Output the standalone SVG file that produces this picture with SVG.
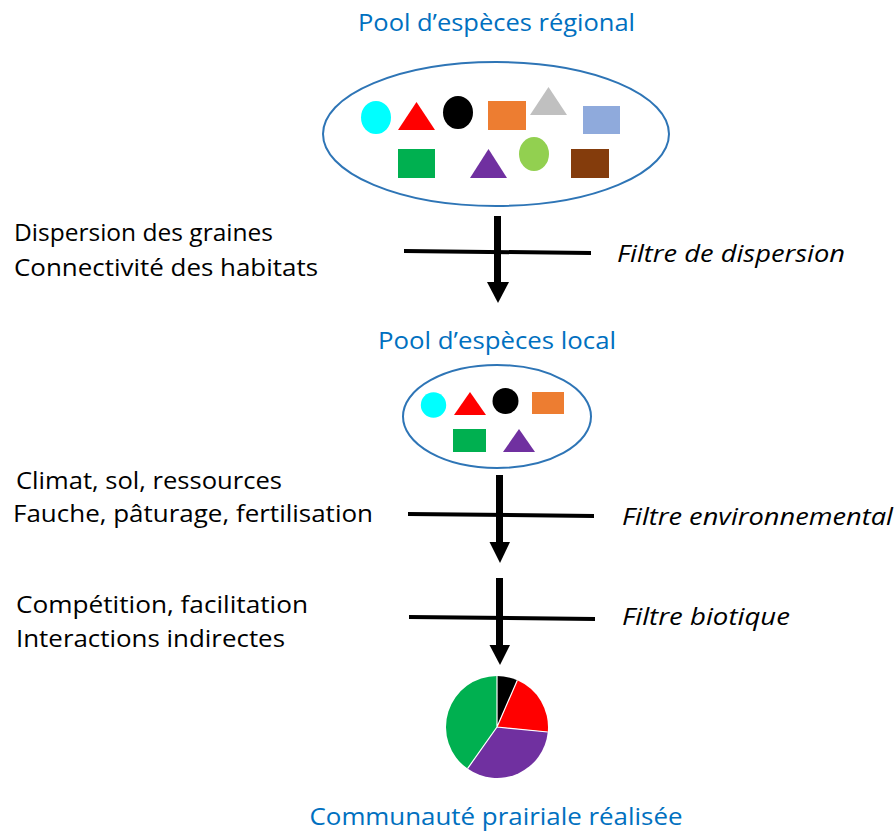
<svg xmlns="http://www.w3.org/2000/svg" width="896" height="832" viewBox="0 0 896 832">
<style>
.title{font-family:"Open Sans","Liberation Sans",sans-serif;font-size:24px;fill:#0070C0;text-anchor:middle}
.lbl{font-family:"Open Sans","Liberation Sans",sans-serif;font-size:24px;fill:#000}
.flt{font-family:"Open Sans","Liberation Sans",sans-serif;font-size:24px;font-style:italic;fill:#000}
.pool{fill:#fff;stroke:#2E75B6;stroke-width:2}
.bar{stroke:#000;stroke-width:4;fill:none}
.shaft{stroke:#000;stroke-width:7;fill:none}
.head{fill:#000}
.sep{stroke:#fff;stroke-width:1.2}
</style>
<rect width="896" height="832" fill="#fff"/>
<g id="regional-pool">
  <text class="title" x="496.5" y="31" textLength="277" lengthAdjust="spacingAndGlyphs">Pool d’espèces régional</text>
  <ellipse class="pool" cx="496" cy="134" rx="173" ry="72"/>
  <ellipse cx="376" cy="117.5" rx="15" ry="16.5" fill="#00FFFF"/>
  <polygon points="416.5,102 435,130 398,130" fill="#FF0000"/>
  <ellipse cx="458" cy="112.5" rx="15" ry="16.5" fill="#000"/>
  <rect x="488" y="101" width="38" height="29" fill="#ED7D31"/>
  <polygon points="548.5,87 567,115 530,115" fill="#C0C0C0"/>
  <rect x="583" y="106" width="37" height="28" fill="#8FAADC"/>
  <rect x="398" y="149" width="37" height="29" fill="#00B050"/>
  <polygon points="488.5,149 507,178 470,178" fill="#7030A0"/>
  <ellipse cx="534" cy="154" rx="15" ry="17" fill="#92D050"/>
  <rect x="571" y="149" width="38" height="29" fill="#843C0C"/>
</g>
<g id="dispersion-filter">
  <text class="lbl" x="14" y="241" textLength="259" lengthAdjust="spacingAndGlyphs">Dispersion des graines</text>
  <text class="lbl" x="14" y="276" textLength="304" lengthAdjust="spacingAndGlyphs">Connectivité des habitats</text>
  <text class="flt" x="617" y="262" textLength="228" lengthAdjust="spacingAndGlyphs">Filtre de dispersion</text>
</g>
<g id="local-pool">
  <text class="title" x="497" y="349" textLength="238" lengthAdjust="spacingAndGlyphs">Pool d’espèces local</text>
  <ellipse class="pool" cx="497" cy="416.5" rx="94" ry="51.5"/>
  <circle cx="433.5" cy="405" r="12.7" fill="#00FFFF"/>
  <polygon points="470,392 486,415 454,415" fill="#FF0000"/>
  <circle cx="505.5" cy="401" r="13" fill="#000"/>
  <rect x="532" y="392" width="32" height="22" fill="#ED7D31"/>
  <rect x="453" y="429" width="33" height="23" fill="#00B050"/>
  <polygon points="519,429 535,452 503,452" fill="#7030A0"/>
</g>
<g id="environmental-filter">
  <text class="lbl" x="16" y="489" textLength="266" lengthAdjust="spacingAndGlyphs">Climat, sol, ressources</text>
  <text class="lbl" x="13" y="522" textLength="360" lengthAdjust="spacingAndGlyphs">Fauche, pâturage, fertilisation</text>
  <text class="flt" x="622" y="525" textLength="271" lengthAdjust="spacingAndGlyphs">Filtre environnemental</text>
</g>
<g id="biotic-filter">
  <text class="lbl" x="16" y="613" textLength="292" lengthAdjust="spacingAndGlyphs">Compétition, facilitation</text>
  <text class="lbl" x="16" y="647" textLength="269" lengthAdjust="spacingAndGlyphs">Interactions indirectes</text>
  <text class="flt" x="622" y="625" textLength="168" lengthAdjust="spacingAndGlyphs">Filtre biotique</text>
</g>
<g id="community">
  <path d="M497,727 L497,676 A51,51 0 0 1 517.33,680.23 Z" fill="#000"/>
  <path d="M497,727 L517.33,680.23 A51,51 0 0 1 547.76,731.98 Z" fill="#FF0000"/>
  <path d="M497,727 L547.76,731.98 A51,51 0 0 1 467.53,768.62 Z" fill="#7030A0"/>
  <path d="M497,727 L467.53,768.62 A51,51 0 0 1 497,676 Z" fill="#00B050"/>
  <path class="sep" d="M497,727 L497,676 M497,727 L517.33,680.23 M497,727 L547.76,731.98 M497,727 L467.53,768.62"/>
  <text class="title" x="496" y="825" textLength="373" lengthAdjust="spacingAndGlyphs">Communauté prairiale réalisée</text>
</g>
<g id="connectors">
  <line class="bar" x1="404" y1="251" x2="591" y2="253"/>
  <line class="shaft" x1="497.5" y1="216" x2="497.5" y2="284"/>
  <polygon class="head" points="487,282 509,282 498,303"/>
  <line class="bar" x1="408" y1="514" x2="594" y2="516"/>
  <line class="shaft" x1="499.5" y1="475" x2="499.5" y2="544"/>
  <polygon class="head" points="489.5,542 510,542 500,563"/>
  <line class="bar" x1="409" y1="617" x2="595" y2="619"/>
  <line class="shaft" x1="499.5" y1="578" x2="499.5" y2="647"/>
  <polygon class="head" points="489.5,645 510,645 500,665"/>
</g>
</svg>
